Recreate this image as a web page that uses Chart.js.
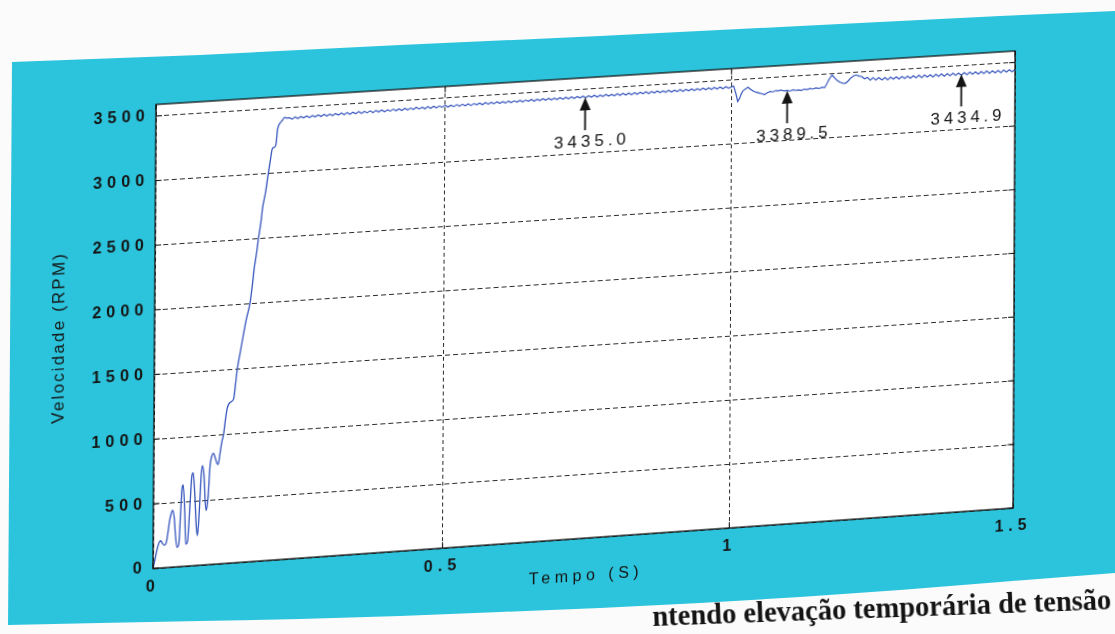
<!DOCTYPE html>
<html>
<head>
<meta charset="utf-8">
<script src="https://cdn.jsdelivr.net/npm/chart.js@4.4.1/dist/chart.umd.min.js"></script>
<style>
  html, body { margin: 0; padding: 0; background: #fbfbfb; overflow: hidden; }
  #page { position: relative; width: 1115px; height: 634px; }
  #panel {
    position: absolute; left: 0; top: 0; width: 1115px; height: 634px;
    background: #2cc4dc;
    clip-path: polygon(12px 62px, 200px 55px, 400px 45px, 600px 36px, 800px 26px, 1000px 16px, 1115px 11px,
                       1115px 573px, 1000px 582px, 900px 590px, 800px 597px, 700px 603px, 600px 608px,
                       500px 612px, 400px 616px, 300px 619px, 200px 621px, 100px 623px, 8px 625px);
  }
  #chart { position: absolute; left: 0; top: 0; transform-origin: 0 0; }
  #caption {
    position: absolute; left: 653px; top: 601px;
    font: bold 28.5px "Liberation Serif", "Times New Roman", serif; color: #141414;
    white-space: nowrap; transform: rotate(-2.1deg); transform-origin: 0 100%;
  }
</style>
</head>
<body>
<div id="page">
  <div id="panel"></div>
  <canvas id="chart" width="1115" height="634"></canvas>
  <div id="caption">ntendo elevação temporária de tensão</div>
</div>
<script>
// ---- Axis ticks ----
const xTicks = [0, 0.5, 1, 1.5];
const yTicks = [0, 500, 1000, 1500, 2000, 2500, 3000, 3500];
const xMax = 1.5;
const yMax = 3590;

// ---- Start-up transient (time in s, speed in RPM) ----
const startTimes = [0, 0.003, 0.007, 0.010, 0.013, 0.016, 0.019, 0.022, 0.025, 0.028,
  0.031, 0.033, 0.036, 0.038, 0.041, 0.044, 0.047, 0.049, 0.051, 0.054,
  0.056, 0.059, 0.063, 0.066, 0.068, 0.071, 0.074, 0.076, 0.079, 0.082,
  0.084, 0.087, 0.089, 0.091, 0.094, 0.097, 0.100, 0.103, 0.106, 0.109,
  0.111, 0.114, 0.117, 0.120, 0.123, 0.126, 0.129, 0.133, 0.137, 0.140,
  0.143, 0.148, 0.153, 0.158, 0.164, 0.168, 0.171, 0.175, 0.178, 0.182,
  0.185, 0.190, 0.194, 0.198, 0.201, 0.204, 0.207, 0.210, 0.214, 0.218,
  0.222, 0.226];
const startRPM = [0, 60, 150, 195, 210, 190, 175, 185, 260, 360,
  420, 440, 380, 260, 150, 170, 430, 600, 630, 420,
  170, 190, 480, 700, 720, 560, 300, 230, 420, 700,
  770, 680, 500, 420, 520, 760, 840, 860, 820, 780,
  770, 850, 940, 1000, 1110, 1200, 1235, 1250, 1270, 1380,
  1500, 1630, 1760, 1880, 2000, 2140, 2270, 2390, 2500, 2620,
  2740, 2860, 2990, 3110, 3190, 3200, 3215, 3340, 3385, 3405,
  3428, 3420];

// ---- Steady running before the swell: samples every 5 ms from 0.230 s ----
const steadyStart = 0.230;
const sampleStep = 0.005;
const steadyRPM = [
  3424, 3410, 3426, 3412, 3427, 3414, 3428, 3415, 3429, 3416,
  3431, 3417, 3432, 3418, 3431, 3419, 3433, 3420, 3434, 3420,
  3435, 3421, 3434, 3422, 3436, 3422, 3435, 3423, 3437, 3423,
  3437, 3424, 3438, 3423, 3437, 3425, 3439, 3424, 3438, 3425,
  3440, 3426, 3439, 3426, 3441, 3427, 3440, 3426, 3441, 3427,
  3442, 3428, 3441, 3429, 3443, 3428, 3442, 3429, 3443, 3430,
  3443, 3430, 3444, 3429, 3443, 3431, 3444, 3430, 3445, 3431,
  3444, 3431, 3445, 3432, 3444, 3431, 3446, 3432, 3445, 3433,
  3446, 3432, 3445, 3433, 3447, 3432, 3446, 3433, 3447, 3434,
  3447, 3433, 3446, 3434, 3448, 3433, 3447, 3434, 3448, 3434,
  3447, 3435, 3448, 3434, 3447, 3435, 3449, 3434, 3448, 3435,
  3449, 3435, 3448, 3436, 3450, 3435, 3449, 3436, 3450, 3436,
  3450, 3436, 3449, 3437, 3451, 3436, 3450, 3437, 3451, 3437,
  3450, 3437, 3451, 3436, 3450, 3437, 3451, 3436, 3450, 3437,
  3451, 3437, 3450, 3438, 3452, 3437, 3451, 3438, 3452, 3438,
  3451, 3438, 3452, 3439];

// ---- Temporary voltage swell from t = 1 s ----
const swellTimes = [1.000, 1.004, 1.008, 1.011, 1.014, 1.017, 1.020, 1.024, 1.029, 1.033,
  1.038, 1.043, 1.049, 1.054, 1.058, 1.063, 1.068, 1.073, 1.078, 1.082,
  1.087, 1.092, 1.098, 1.103, 1.108, 1.113, 1.118, 1.123, 1.128, 1.133,
  1.138, 1.143, 1.148, 1.154, 1.159, 1.164, 1.168, 1.172, 1.177, 1.181,
  1.186, 1.191, 1.196, 1.201, 1.206, 1.210, 1.215, 1.219, 1.224, 1.229,
  1.234, 1.239, 1.244, 1.249, 1.254, 1.259];
const swellRPM = [3446, 3452, 3390, 3330, 3350, 3385, 3410, 3422, 3436, 3420,
  3405, 3394, 3385, 3378, 3370, 3384, 3392, 3388, 3397, 3392,
  3398, 3390, 3393, 3386, 3394, 3388, 3391, 3385, 3395, 3389,
  3396, 3390, 3398, 3392, 3400, 3396, 3428, 3462, 3490, 3470,
  3445, 3430, 3422, 3420, 3440, 3460, 3474, 3480, 3470, 3465,
  3446, 3456, 3432, 3450, 3430, 3448];

// ---- Recovered steady running: samples every 5 ms from 1.265 s ----
const recoveryStart = 1.265;
const recoveryRPM = [
  3428, 3446, 3427, 3445, 3428, 3446, 3427, 3445, 3429, 3446,
  3427, 3445, 3428, 3447, 3427, 3445, 3428, 3446, 3426, 3445,
  3428, 3446, 3427, 3445, 3429, 3446, 3428, 3444, 3427, 3446,
  3428, 3445, 3428, 3446, 3427, 3445, 3428, 3447, 3427, 3445,
  3428, 3446, 3427, 3445, 3428, 3446, 3429, 3445];

// ---- Marked speed readings ----
const markTimes = [0.744, 1.098, 1.405];
const markValues = [3435.0, 3389.5, 3434.9];

// ---- Series assembly ----
const startSeries = startTimes.map((t, i) => ({ x: t, y: startRPM[i] }));
const runSeries = [startSeries[startSeries.length - 1]]
  .concat(steadyRPM.map((v, i) => ({ x: +(steadyStart + i * sampleStep).toFixed(3), y: v })))
  .concat(swellTimes.map((t, i) => ({ x: t, y: swellRPM[i] })))
  .concat(recoveryRPM.map((v, i) => ({ x: +(recoveryStart + i * sampleStep).toFixed(3), y: v })));

// ---- Page geometry: plot frame on the canvas and where it sits on the printed page ----
const frameSrc = [[154, 106], [1014, 106], [1014, 572], [154, 572]];
const frameDst = [[156, 104.5], [1015, 51], [1013, 508], [153, 568.5]];

function homography(src, dst) {
  const A = [], B = [];
  for (let i = 0; i < 4; i++) {
    const [x, y] = src[i], [u, v] = dst[i];
    A.push([x, y, 1, 0, 0, 0, -x * u, -y * u]); B.push(u);
    A.push([0, 0, 0, x, y, 1, -x * v, -y * v]); B.push(v);
  }
  const n = 8;
  for (let c = 0; c < n; c++) {
    let p = c;
    for (let r = c + 1; r < n; r++) if (Math.abs(A[r][c]) > Math.abs(A[p][c])) p = r;
    [A[c], A[p]] = [A[p], A[c]]; [B[c], B[p]] = [B[p], B[c]];
    for (let r = 0; r < n; r++) {
      if (r === c) continue;
      const f = A[r][c] / A[c][c];
      for (let k = c; k < n; k++) A[r][k] -= f * A[c][k];
      B[r] -= f * B[c];
    }
  }
  return B.map((b, i) => b / A[i][i]);
}
const [ha, hb, hc, hd, he, hf, hg, hh] = homography(frameSrc, frameDst);
const canvas = document.getElementById('chart');
canvas.style.transform =
  `matrix3d(${ha},${hd},0,${hg},${hb},${he},0,${hh},0,0,1,0,${hc},${hf},0,1)`;

const SANS = '"Liberation Sans", Arial, Helvetica, sans-serif';
const INK = '#141414';
const TRACE = '#3655bd';

// White plot face, spaced lettering for the tick labels
const facePlugin = {
  id: 'plotFace',
  beforeDraw(chart) {
    const { ctx, chartArea: a } = chart;
    ctx.save();
    ctx.fillStyle = '#ffffff';
    ctx.fillRect(a.left, a.top, a.right - a.left, a.bottom - a.top);
    ctx.restore();
    ctx.letterSpacing = '5px';
  }
};

// Frame, inward tick marks and axis titles
const framePlugin = {
  id: 'plotFrame',
  afterDraw(chart) {
    const { ctx, chartArea: a, scales: { x, y } } = chart;
    ctx.save();
    ctx.letterSpacing = '0px';
    ctx.strokeStyle = INK;
    ctx.lineWidth = 1.3;
    ctx.strokeRect(a.left, a.top, a.right - a.left, a.bottom - a.top);
    ctx.lineWidth = 1;
    ctx.beginPath();
    yTicks.forEach(v => {
      const py = y.getPixelForValue(v);
      ctx.moveTo(a.left, py); ctx.lineTo(a.left + 6, py);
      ctx.moveTo(a.right, py); ctx.lineTo(a.right - 6, py);
    });
    xTicks.forEach(v => {
      const px = x.getPixelForValue(v);
      ctx.moveTo(px, a.bottom); ctx.lineTo(px, a.bottom - 6);
      ctx.moveTo(px, a.top); ctx.lineTo(px, a.top + 6);
    });
    ctx.stroke();

    ctx.fillStyle = INK;
    ctx.textAlign = 'center';
    ctx.textBaseline = 'middle';
    ctx.font = '17px ' + SANS;
    ctx.letterSpacing = '2.2px';
    ctx.save();
    ctx.translate(60, 334);
    ctx.rotate(-Math.PI / 2);
    ctx.fillText('Velocidade (RPM)', 0, 0);
    ctx.restore();

    ctx.font = '16px ' + SANS;
    ctx.letterSpacing = '4.5px';
    ctx.fillText('Tempo (S)', 584, 611);
    ctx.restore();
  }
};

// Arrows pointing at the marked speed readings, value written underneath
const marksPlugin = {
  id: 'speedMarks',
  afterDatasetsDraw(chart) {
    const { ctx, scales: { x, y } } = chart;
    ctx.save();
    ctx.strokeStyle = INK;
    ctx.fillStyle = INK;
    markTimes.forEach((t, i) => {
      const px = x.getPixelForValue(t);
      const py = y.getPixelForValue(markValues[i]);
      ctx.lineWidth = 1.8;
      ctx.beginPath();
      ctx.moveTo(px, py + 10);
      ctx.lineTo(px, py + 33);
      ctx.stroke();
      ctx.beginPath();
      ctx.moveTo(px, py);
      ctx.lineTo(px - 5.5, py + 13);
      ctx.lineTo(px + 5.5, py + 13);
      ctx.closePath();
      ctx.fill();
      ctx.font = '17px ' + SANS;
      ctx.letterSpacing = '4px';
      ctx.textAlign = 'center';
      ctx.textBaseline = 'middle';
      ctx.fillText(markValues[i].toFixed(1), px + 7, py + 45);
    });
    ctx.restore();
  }
};

new Chart(canvas, {
  type: 'line',
  data: {
    datasets: [
      {
        data: startSeries,
        borderColor: TRACE,
        borderWidth: 1.3,
        pointRadius: 0,
        cubicInterpolationMode: 'monotone',
        fill: false
      },
      {
        data: runSeries,
        borderColor: TRACE,
        borderWidth: 1.2,
        pointRadius: 0,
        tension: 0,
        fill: false
      }
    ]
  },
  options: {
    responsive: false,
    animation: false,
    events: [],
    layout: { padding: { left: 0, top: 106, right: 101, bottom: 0 } },
    plugins: { legend: { display: false }, tooltip: { enabled: false }, title: { display: false } },
    scales: {
      x: {
        type: 'linear',
        min: 0,
        max: xMax,
        afterBuildTicks: s => { s.ticks = xTicks.map(v => ({ value: v })); },
        afterFit: s => { s.height = 62; },
        grid: { color: '#2a2a2a', lineWidth: 1, drawTicks: false },
        border: { display: false, dash: [4, 3] },
        ticks: {
          padding: 9,
          color: INK,
          maxRotation: 0,
          font: { family: SANS, size: 16, weight: 'bold' },
          callback: v => String(v)
        }
      },
      y: {
        type: 'linear',
        min: 0,
        max: yMax,
        afterBuildTicks: s => { s.ticks = yTicks.map(v => ({ value: v })); },
        afterFit: s => { s.width = 154; },
        grid: { color: '#2a2a2a', lineWidth: 1, drawTicks: false },
        border: { display: false, dash: [5, 3] },
        ticks: {
          padding: 6,
          color: INK,
          font: { family: SANS, size: 16, weight: 'bold' },
          callback: v => String(v)
        }
      }
    }
  },
  plugins: [facePlugin, marksPlugin, framePlugin]
});
</script>
</body>
</html>
